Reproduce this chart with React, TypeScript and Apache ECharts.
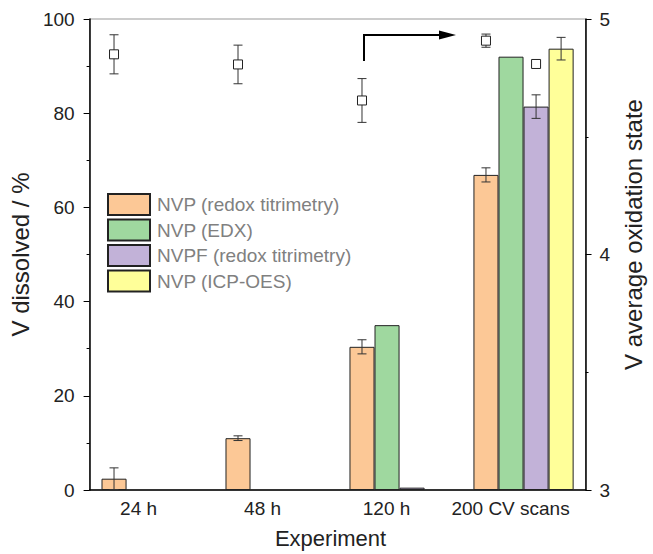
import React, { useEffect, useRef } from "react";
import * as echarts from "echarts";

const categories = ["24 h", "48 h", "120 h", "200 CV scans"];
const seriesNames = ["NVP (redox titrimetry)", "NVP (EDX)", "NVPF (redox titrimetry)", "NVP (ICP-OES)"];
const nvpRedox = [2.4, 11.0, 30.4, 66.9];
const nvpRedoxErr = [2.3, 0.5, 1.5, 1.5];
const nvpEdx = [null, null, 35.0, 92.0];
const nvpfRedox = [null, null, 0.5, 81.4];
const nvpfRedoxErr = [null, null, null, 2.5];
const nvpIcp = [null, null, null, 93.7];
const nvpIcpErr = [null, null, null, 2.4];
const oxNvp = [4.85, 4.807, 4.654, 4.908];
const oxNvpErr = [0.083, 0.082, 0.093, 0.028];
const oxNvpf = [null, null, null, 4.809];
const oxNvpfErr = [null, null, null, 0.01];
const barColors = ["#FCC896", "#9FD89F", "#C2B2D8", "#FFFF99"];

const GAP = 0.192;
const FONT = "Liberation Sans, Arial, sans-serif";

function errData(vals: (number | null)[], errs: (number | null)[], slot: number) {
  const out: any[] = [];
  vals.forEach((v, i) => {
    const e = errs[i];
    if (v != null && e != null) out.push([i, v, e, slot]);
  });
  return out;
}

function makeRender(withMarker: boolean) {
  return (params: any, api: any) => {
    const idx = api.value(0);
    const v = api.value(1);
    const e = api.value(2);
    const slot = api.value(3);
    const band = api.size([1, 0])[0];
    const bw = (band * (1 - GAP)) / 4;
    const c = api.coord([idx, v]);
    const x = c[0] + (slot - 1.5) * bw;
    const yTop = api.coord([idx, v + e])[1];
    const yBot = api.coord([idx, v - e])[1];
    const cap = 4.5;
    const st = { stroke: "#333", lineWidth: 1 };
    const children: any[] = [];
    if (e > 0.02) {
      children.push(
        { type: "line", shape: { x1: x, y1: yTop, x2: x, y2: yBot }, style: st },
        { type: "line", shape: { x1: x - cap, y1: yTop, x2: x + cap, y2: yTop }, style: st },
        { type: "line", shape: { x1: x - cap, y1: yBot, x2: x + cap, y2: yBot }, style: st }
      );
    }
    if (withMarker) {
      const s = 9;
      children.push({
        type: "rect",
        shape: { x: x - s / 2, y: c[1] - s / 2, width: s, height: s },
        style: { fill: "#fff", stroke: "#222", lineWidth: 1 },
      });
    }
    return { type: "group", children };
  };
}

export default function App() {
  const ref = useRef<HTMLDivElement>(null);
  useEffect(() => {
    document.body.style.margin = "0";
    const chart = echarts.init(ref.current!, null, { renderer: "svg" });
    const barData = [nvpRedox, nvpEdx, nvpfRedox, nvpIcp];
    const option: any = {
      animation: false,
      textStyle: { fontFamily: FONT },
      grid: { left: 82, right: 56, top: 19, bottom: 61, show: true, borderColor: "#999", borderWidth: 1 },
      legend: {
        data: seriesNames,
        orient: "vertical",
        left: 107,
        top: 193,
        padding: 0,
        itemWidth: 42,
        itemHeight: 21,
        itemGap: 2.5,
        icon: "rect",
        textStyle: { color: "#808080", fontSize: 19, fontFamily: FONT, padding: [0, 0, 0, 2] },
      },
      xAxis: {
        type: "category",
        data: categories,
        axisLine: { lineStyle: { color: "#000", width: 1.5 } },
        axisTick: { show: false },
        axisLabel: { interval: 0, color: "#222", fontSize: 19, margin: 9, padding: [0, 26, 0, 0], fontFamily: FONT },
        name: "Experiment",
        nameLocation: "middle",
        nameGap: 37,
        nameTextStyle: { color: "#222", fontSize: 22, fontFamily: FONT, padding: [0, 14, 0, 0] },
      },
      yAxis: [
        {
          type: "value",
          min: 0,
          max: 100,
          interval: 20,
          axisLine: { show: true, lineStyle: { color: "#000", width: 1.5 } },
          axisTick: { show: true, length: 6, lineStyle: { color: "#000", width: 1 } },
          minorTick: { show: true, splitNumber: 2, length: 3, lineStyle: { color: "#000", width: 1 } },
          splitLine: { show: false },
          axisLabel: { color: "#222", fontSize: 19, margin: 15, fontFamily: FONT },
          name: "V dissolved / %",
          nameLocation: "middle",
          nameGap: 50,
          nameTextStyle: { color: "#222", fontSize: 24, fontFamily: FONT },
        },
        {
          type: "value",
          position: "right",
          min: 3,
          max: 5,
          interval: 1,
          axisLine: { show: true, lineStyle: { color: "#000", width: 1.5 } },
          axisTick: { show: true, length: 6, lineStyle: { color: "#000", width: 1 } },
          minorTick: { show: true, splitNumber: 2, length: 3, lineStyle: { color: "#000", width: 1 } },
          splitLine: { show: false },
          axisLabel: { color: "#222", fontSize: 19, margin: 14, fontFamily: FONT },
          name: "V average oxidation state",
          nameLocation: "middle",
          nameGap: 25,
          nameTextStyle: { color: "#222", fontSize: 24, fontFamily: FONT, padding: [0, 0, 0, 40] },
        },
      ],
      series: [
        ...barData.map((d, k) => ({
          type: "bar",
          name: seriesNames[k],
          data: d,
          yAxisIndex: 0,
          barGap: "0%",
          barCategoryGap: (GAP * 100).toFixed(1) + "%",
          itemStyle: { color: barColors[k], borderColor: "#222", borderWidth: 1 },
          z: 2,
        })),
        {
          type: "custom",
          name: "errBars",
          yAxisIndex: 0,
          z: 4,
          encode: { x: 0, y: 1 },
          renderItem: makeRender(false),
          data: [
            ...errData(nvpRedox, nvpRedoxErr, 0),
            ...errData(nvpfRedox, nvpfRedoxErr, 2),
            ...errData(nvpIcp, nvpIcpErr, 3),
          ],
        },
        {
          type: "custom",
          name: "oxState",
          yAxisIndex: 1,
          z: 5,
          encode: { x: 0, y: 1 },
          renderItem: makeRender(true),
          data: [...errData(oxNvp, oxNvpErr, 0), ...errData(oxNvpf, oxNvpfErr, 2)],
        },
      ],
      graphic: [
        {
          type: "polyline",
          shape: { points: [[364, 61], [364, 35], [442, 35]] },
          style: { stroke: "#000", lineWidth: 2, fill: null },
          z: 10,
        },
        {
          type: "polygon",
          shape: { points: [[439, 30.5], [456, 35], [439, 39.5]] },
          style: { fill: "#000" },
          z: 10,
        },
      ],
    };
    chart.setOption(option);
    return () => chart.dispose();
  }, []);
  return <div ref={ref} style={{ width: 653, height: 554 }} />;
}
